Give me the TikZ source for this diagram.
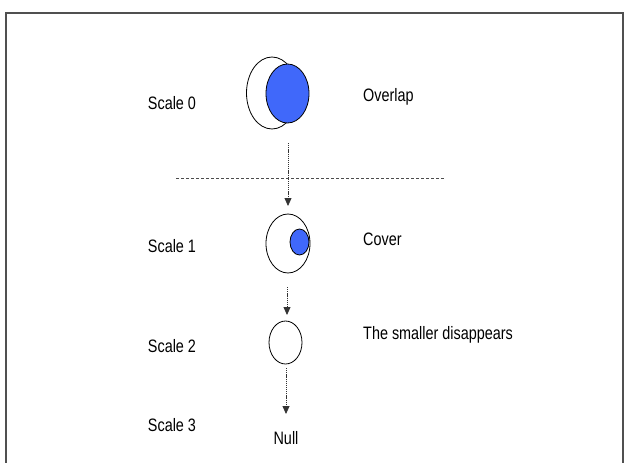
\documentclass[tikz,border=0pt]{standalone}
\usepackage{fontspec}
\setmainfont{Liberation Sans}[FakeStretch=0.8]
\usetikzlibrary{arrows.meta,shapes.geometric}
\definecolor{fillblue}{RGB}{64,104,250}
\definecolor{framegray}{RGB}{80,80,80}
\tikzset{
  lbl/.style={font=\fontsize{18}{21}\selectfont, inner sep=0pt, anchor=center},
  txt/.style={font=\fontsize{18}{21}\selectfont, inner sep=0pt, anchor=west},
  ring/.style={ellipse, draw=black, line width=0.8pt, inner sep=0pt},
  blob/.style={ellipse, draw=black, fill=fillblue, line width=0.8pt, inner sep=0pt},
  flow/.style={draw=black!80, line width=0.8pt, dash pattern=on 1.2pt off 0.9pt,
               -{Triangle[length=8pt,width=7pt]}},
  divider/.style={draw=black!70, line width=0.8pt, dash pattern=on 3pt off 2pt},
}
\begin{document}
\begin{tikzpicture}[x=1pt,y=-1pt]
  \useasboundingbox (0,0) rectangle (624,463);
  % open frame
  \draw[framegray, line width=1.6pt] (6,463) -- (6,13) -- (623,13) -- (623,463);

  % scale labels
  \node[lbl] (s0) at (172,103) {Scale 0};
  \node[lbl] (s1) at (172,246) {Scale 1};
  \node[lbl] (s2) at (172,346) {Scale 2};
  \node[lbl] (s3) at (172,425) {Scale 3};

  % descriptions
  \node[txt] (d0) at (363,97) {Overlap};
  \node[txt] (d1) at (363,239) {Cover};
  \node[txt] (d2) at (363,335) {The smaller disappears};
  \node[lbl] (null) at (286,438) {Null};

  % scale 0: two overlapping regions
  \node[ring, minimum width=51pt, minimum height=72pt] (a0) at (272,93) {};
  \node[blob, minimum width=43pt, minimum height=59pt] (b0) at (287.5,93.5) {};

  % scale 1: small region inside the large one
  \node[ring, minimum width=44pt, minimum height=59pt] (a1) at (288,243.5) {};
  \node[blob, minimum width=19pt, minimum height=26pt] (b1) at (299.5,242) {};

  % scale 2: only the large region remains
  \node[ring, minimum width=33pt, minimum height=43pt] (a2) at (285.5,342.5) {};

  % divider between scales 0 and 1
  \coordinate (hl) at (176,178);
  \coordinate (hr) at (444,178);
  \draw[divider] (hl) -- (hr);

  % arrow endpoints
  \coordinate (p0) at (288,143);
  \coordinate (q0) at (288,206);
  \coordinate (p1) at (287,287);
  \coordinate (q1) at (287,315);
  \coordinate (p2) at (286,368);
  \coordinate (q2) at (286,414);
  \draw[flow] (p0) -- (q0);
  \draw[flow] (p1) -- (q1);
  \draw[flow] (p2) -- (q2);
\end{tikzpicture}
\end{document}
